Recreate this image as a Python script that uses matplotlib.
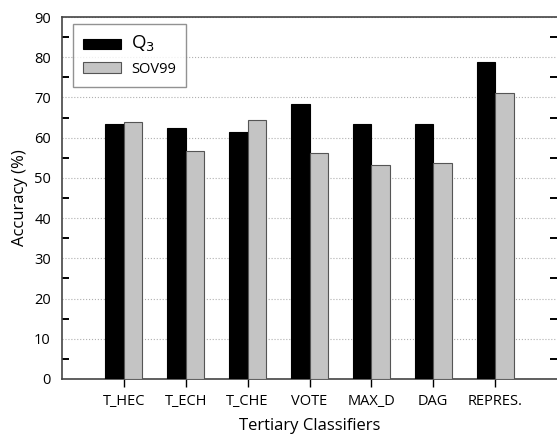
import numpy as np
import matplotlib
matplotlib.use('Agg')
import matplotlib.pyplot as plt
from matplotlib.ticker import MultipleLocator

classifiers = ['T_HEC', 'T_ECH', 'T_CHE', 'VOTE', 'MAX_D', 'DAG', 'REPRES.']
q3 = [63.4, 62.4, 61.3, 68.4, 63.4, 63.3, 78.9]
sov99 = [63.8, 56.8, 64.5, 56.2, 53.1, 53.7, 71.2]

plt.rcParams['font.family'] = ['Open Sans', 'DejaVu Sans']

fig = plt.figure(figsize=(5.57, 4.36), dpi=100)
ax = fig.add_axes([62/557, 1 - 379/436, 1 - 62/557, (379 - 17)/436])

x = np.arange(1, len(classifiers) + 1)
width = 0.3

ax.bar(x - width/2, q3, width, color='black', edgecolor='black', linewidth=0.8, label='Q$_3$', zorder=3)
ax.bar(x + width/2, sov99, width, color='#c4c4c4', edgecolor='#555555', linewidth=0.8, label='SOV99', zorder=3)

ax.set_xlim(0, 8)
ax.set_ylim(0, 90)
ax.set_xticks(x)
ax.set_xticklabels(classifiers, fontsize=10.5)
ax.yaxis.set_major_locator(MultipleLocator(10))
ax.yaxis.set_minor_locator(MultipleLocator(5))
ax.tick_params(axis='y', which='major', length=0, labelsize=10.5, pad=8)
ax.tick_params(axis='y', which='minor', direction='in', length=5, width=1.4, right=True)
ax.tick_params(axis='x', direction='out', length=6, width=1, pad=5)
ax.yaxis.grid(True, which='major', color='#b0b0b0', linestyle=':', linewidth=0.8, zorder=0)

for s in ['left', 'bottom', 'top']:
    ax.spines[s].set_color('#444444')
    ax.spines[s].set_linewidth(1.2)
ax.spines['right'].set_visible(False)

ax.set_ylabel('Accuracy (%)', fontsize=12, labelpad=4)
ax.set_xlabel('Tertiary Classifiers', fontsize=12, labelpad=6)

leg = ax.legend(loc='upper left', bbox_to_anchor=(0.0216, 0.981), borderaxespad=0,
                fontsize=10.5, frameon=True, fancybox=False, handlelength=2.6,
                handleheight=0.72, handletextpad=0.7, borderpad=0.7,
                labelspacing=0.5, edgecolor='#777777')
leg.get_frame().set_linewidth(1.0)
leg.get_texts()[0].set_fontsize(13.5)

fig.savefig('out.png', dpi=100)
